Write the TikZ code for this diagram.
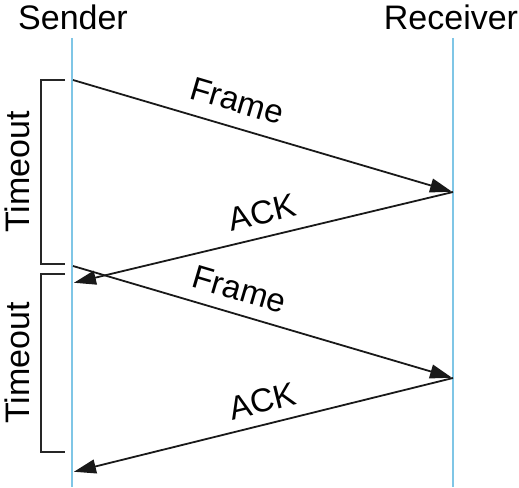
\documentclass[tikz,border=0pt]{standalone}
\usepackage{fontspec}
\setmainfont{Liberation Sans}
\usetikzlibrary{arrows.meta}
\definecolor{lifeblue}{HTML}{7FC6E6}
\tikzset{
  lifeline/.style={draw=lifeblue, line width=2.2pt},
  msg/.style={draw=black!90, line width=1.8pt, -{Triangle[length=22pt,width=14pt]}, shorten >=1pt},
  lbl/.style={font=\fontsize{33}{35}\selectfont, sloped, above, inner sep=3pt},
  hdr/.style={font=\fontsize{34}{36}\selectfont, inner sep=0pt},
  brk/.style={draw=black!85, line width=1.8pt},
}
\begin{document}
\begin{tikzpicture}[x=1pt,y=-1pt]
\useasboundingbox (0,0) rectangle (519,487);
\node[hdr] (snd) at (73,17) {Sender};
\node[hdr] (rcv) at (451,17) {Receiver};
\coordinate (sTop) at (72,38);
\coordinate (sBot) at (72,487);
\coordinate (rTop) at (453,38);
\coordinate (rBot) at (453,487);
\draw[lifeline] (sTop) -- (sBot);
\draw[lifeline] (rTop) -- (rBot);
\coordinate (s1) at (73,80);
\coordinate (r1) at (453,192);
\coordinate (s2) at (73,283);
\coordinate (s3) at (73,266);
\coordinate (r2) at (453,378);
\coordinate (s4) at (73,472);
\draw[msg] (s1) -- node[lbl, pos=0.413, above=11pt] (f1) {Frame} (r1);
\draw[msg] (r1) -- node[lbl, pos=0.487, above=9pt] (a1) {ACK} (s2);
\draw[msg] (s3) -- node[lbl, pos=0.42, above=9pt] (f2) {Frame} (r2);
\draw[msg] (r2) -- node[lbl, pos=0.487, above=8pt] (a2) {ACK} (s4);
% brackets
\coordinate (b1a) at (65,80);
\coordinate (b1b) at (65,264);
\coordinate (b2a) at (65,274);
\coordinate (b2b) at (65,452);
\draw[brk] (b1a) -- ++(-24,0) |- (b1b);
\draw[brk] (b2a) -- ++(-24,0) |- (b2b);
\node[hdr, rotate=90] (t1) at (17,172) {Timeout};
\node[hdr, rotate=90] (t2) at (17,363) {Timeout};
\end{tikzpicture}
\end{document}
